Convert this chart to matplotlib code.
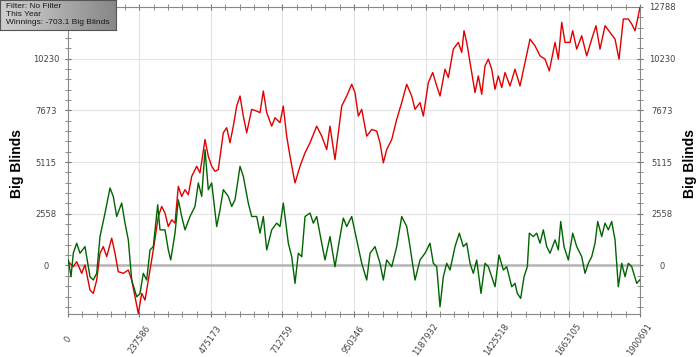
import numpy as np
import matplotlib.pyplot as plt
from matplotlib.ticker import FixedLocator, AutoMinorLocator

# hands played (thousands) and cumulative big blinds
red_hands = [1.0, 17.6, 28.9, 45.5, 56.5, 73.1, 84.1, 95.4, 106.3, 117.3, 128.6, 145.2, 156.2, 167.1,
             183.8, 200.4, 211.7, 222.6, 233.6, 244.9, 255.9, 266.8, 283.5, 300.1, 311.4, 322.3, 333.3,
             344.6, 355.6, 366.5, 377.8, 388.8, 399.8, 411.1, 427.7, 438.6, 455.3, 466.2, 477.5, 488.5,
             499.4, 516.1, 527.4, 538.3, 549.3, 560.6, 571.6, 582.5, 593.8, 610.4, 627.0, 638.0, 649.0,
             660.3, 676.9, 687.9, 704.5, 715.4, 726.7, 737.7, 754.3, 770.9, 787.6, 804.2, 826.4, 843.1,
             859.7, 870.6, 887.2, 898.2, 909.5, 926.1, 942.7, 953.7, 964.7, 976.0, 992.6, 1009.2, 1025.8,
             1036.8, 1047.8, 1059.0, 1075.7, 1092.3, 1108.9, 1125.5, 1142.1, 1153.1, 1169.7, 1180.7,
             1197.3, 1211.9, 1225.2, 1236.2, 1252.8, 1263.8, 1280.4, 1297.0, 1308.3, 1315.9, 1324.9,
             1335.8, 1352.5, 1363.4, 1374.7, 1385.7, 1396.7, 1408.0, 1418.9, 1429.9, 1441.2, 1452.2,
             1468.8, 1485.4, 1502.0, 1518.6, 1535.2, 1551.8, 1568.5, 1585.1, 1599.4, 1618.3, 1629.3,
             1640.6, 1651.5, 1668.1, 1677.1, 1690.4, 1707.0, 1723.6, 1740.3, 1754.5, 1767.8, 1784.5,
             1801.1, 1817.7, 1831.0, 1845.3, 1861.9, 1873.2, 1884.2, 1895.1, 1900.691]
red_bb = [189, -60, 189, -387, 25, -1217, -1381, -720, 606, 934, 437, 1351, 606, -308,
          -387, -224, -720, -1550, -2374, -1381, -1714, -720, 770, 2424, 2921, 2593, 1927,
          2260, 2096, 3914, 3417, 3750, 3502, 4411, 4907, 4580, 6234, 5404, 4907, 4659,
          4743, 6566, 6815, 6070, 6894, 7888, 8384, 7391, 6566, 7724, 7639, 7560, 8633,
          7560, 6894, 7311, 7063, 7888, 6398, 5404, 4083, 4907, 5573, 6070, 6894, 6398,
          5737, 6894, 5240, 6566, 7888, 8384, 8965, 8553, 7391, 7724, 6398, 6730, 6646,
          6070, 5076, 5737, 6234, 7227, 8057, 8965, 8384, 7724, 8057, 7391,
          9050, 9547, 8881, 8384, 9710, 9298, 10704, 11037, 10540, 11613, 11037,
          10043, 8553, 9378, 8469, 9874, 10207, 9710, 8717, 9378, 8802, 9547,
          8881, 9710, 8881, 10043, 11200, 10868, 10371, 10207, 9626, 11037, 10207,
          12030, 11037, 11037, 11613, 10704, 11365, 10371, 11200, 11861, 10704, 11861,
          11533, 11200, 10207, 12194, 12194, 11946, 11613, 12358, 12788]

green_hands = [1.0, 10.0, 17.6, 28.9, 39.9, 56.5, 73.1, 84.1, 95.4, 106.3, 123.0, 139.6, 150.5, 161.8,
               178.4, 189.4, 200.4, 211.7, 228.3, 239.3, 250.2, 261.5, 272.5, 283.5, 298.1, 305.7,
               322.3, 333.3, 341.3, 355.6, 366.5, 377.8, 388.8, 405.4, 422.0, 433.0, 444.3, 455.3,
               466.2, 477.5, 494.1, 505.1, 516.1, 532.7, 544.0, 555.0, 571.6, 582.5, 599.1, 610.4,
               627.0, 638.0, 649.0, 660.3, 676.9, 693.5, 704.5, 715.4, 732.1, 743.4, 754.3, 765.3,
               776.6, 787.6, 804.2, 815.1, 826.4, 843.1, 854.0, 870.6, 887.2, 903.9, 914.8, 926.1,
               942.7, 959.4, 976.0, 992.6, 1003.6, 1020.2, 1036.8, 1047.8, 1059.0, 1075.7, 1092.3,
               1108.9, 1125.5, 1136.5, 1153.1, 1169.7, 1186.3, 1202.9, 1213.9, 1225.2, 1236.2,
               1247.2, 1258.4, 1269.4, 1286.0, 1300.3, 1313.6, 1324.9, 1335.8, 1346.8, 1358.1,
               1372.4, 1385.7, 1396.7, 1408.0, 1418.9, 1432.2, 1446.5, 1457.8, 1474.4, 1485.4,
               1493.0, 1504.3, 1515.3, 1526.3, 1532.9, 1546.2, 1557.5, 1568.5, 1579.4, 1590.7,
               1601.7, 1618.3, 1629.3, 1637.3, 1648.2, 1662.5, 1677.1, 1690.4, 1707.0, 1718.0,
               1729.0, 1740.3, 1751.2, 1760.2, 1773.5, 1784.5, 1795.4, 1806.7, 1817.7, 1828.7,
               1840.0, 1851.0, 1861.9, 1873.2, 1889.8, 1900.691]
green_bb = [273, -556, 606, 1103, 606, 934, -556, -720, -387, 1430, 2593, 3834, 3417, 2424,
            3089, 2096, 1267, -720, -1550, -1381, -387, -720, 770, 934, 3005, 1763,
            1763, 770, 273, 1599, 3253, 2424, 1763, 2424, 2921, 4083, 3417, 5737,
            3750, 4083, 1927, 2757, 3750, 3417, 2921, 3253, 4907, 4411, 3089, 2424,
            2424, 1599, 2424, 770, 1763, 2096, 1927, 3089, 1103, 437, -884, 606,
            437, 2424, 2593, 2096, 2424, 1103, 273, 1430, -60, 1430, 2344, 1927,
            2424, 1267, 109, -720, 606, 934, 109, -720, 273, -60, 934,
            2424, 1927, 934, -720, 273, 606, 1103, 109, -60, -2046,
            -556, 109, -224, 934, 1599, 934, 1103, 109, -387, 273,
            -1381, 109, -60, -556, -1053, 522, -224, -60, -1053, -884,
            -1381, -1629, -556, -60, 1599, 1430, 1599, 1103, 1763, 934,
            606, 1267, 770, 2176, 934, 273, 1599, 934, 437, -387,
            109, 437, 1103, 2176, 1430, 2096, 1763, 2176, 1267, -1053,
            109, -556, 109, -60, -884, -703.1]

y_ticks = [0, 2558, 5115, 7673, 10230, 12788]
x_ticks = [0, 237586, 475173, 712759, 950346, 1187932, 1425518, 1663105, 1900691]
info_lines = ['Filter: No Filter', 'This Year', 'Winnings: -703.1 Big Blinds']

fig = plt.figure(figsize=(7, 3.57), dpi=100)
ax = fig.add_axes([68/700, 1-314/357, 572/700, 307/357])

ax.plot(np.array(red_hands)*1000, red_bb, color='#e00000', lw=1.0, zorder=3)
ax.plot(np.array(green_hands)*1000, green_bb, color='#006400', lw=1.0, zorder=4)
ax.axhline(0, color='#b4b4b4', lw=1.8, zorder=2)

ax.set_xlim(0, 1900691)
ax.set_ylim(-2400, 12788)
ax.xaxis.set_major_locator(FixedLocator(x_ticks))
ax.yaxis.set_major_locator(FixedLocator(y_ticks))
ax.xaxis.set_minor_locator(AutoMinorLocator(5))
ax.yaxis.set_minor_locator(AutoMinorLocator(5))
ax.set_xticklabels([str(t) for t in x_ticks], rotation=55, ha='center', va='center',
                   rotation_mode='anchor', fontsize=6, color='#444444')
# top-left label sits under the info box in the original
ax.set_yticklabels([str(t) for t in y_ticks[:-1]] + [''], fontsize=6, color='#444444',
                   ha='center')
ax.tick_params(which='both', direction='inout', color='#777777', top=True, right=True)
ax.tick_params(which='major', length=5)
ax.tick_params(which='minor', length=4)
ax.tick_params(axis='y', pad=13.3)
ax.tick_params(axis='x', pad=16)
for s in ax.spines.values():
    s.set_color('#888888')
ax.grid(True, color='#e4e4e4', lw=0.8, zorder=0)

sec = ax.secondary_yaxis('right')
sec.set_yticks(y_ticks)
sec.set_yticklabels([str(t) for t in y_ticks], fontsize=6, color='#444444', ha='center')
sec.tick_params(length=0, pad=15.8)
sec.spines['right'].set_visible(False)

fig.text(17/700, 1-164/357, 'Big Blinds', rotation=90, ha='center', va='center',
         fontsize=10, fontweight='bold', family='Liberation Sans')
fig.text(690/700, 1-164/357, 'Big Blinds', rotation=90, ha='center', va='center',
         fontsize=10, fontweight='bold', family='Liberation Sans')

# info box, top left
grad = np.linspace(0, 1, 100).reshape(1, -1)
box = fig.add_axes([0, 1-30/357, 116/700, 30/357], zorder=10)
box.imshow(grad, aspect='auto', cmap='Greys', vmin=-1.2, vmax=2.8, extent=[0, 1, 0, 1])
box.set_xlim(0, 1)
box.set_ylim(0, 1)
box.set_xticks([])
box.set_yticks([])
for s in box.spines.values():
    s.set_color('#555555')
box.text(0.05, 0.5, '\n'.join(info_lines), fontsize=6, family='Liberation Sans',
         color='#1a1a1a', va='center', ha='left', linespacing=1.2)

fig.savefig('out.png', dpi=100)
